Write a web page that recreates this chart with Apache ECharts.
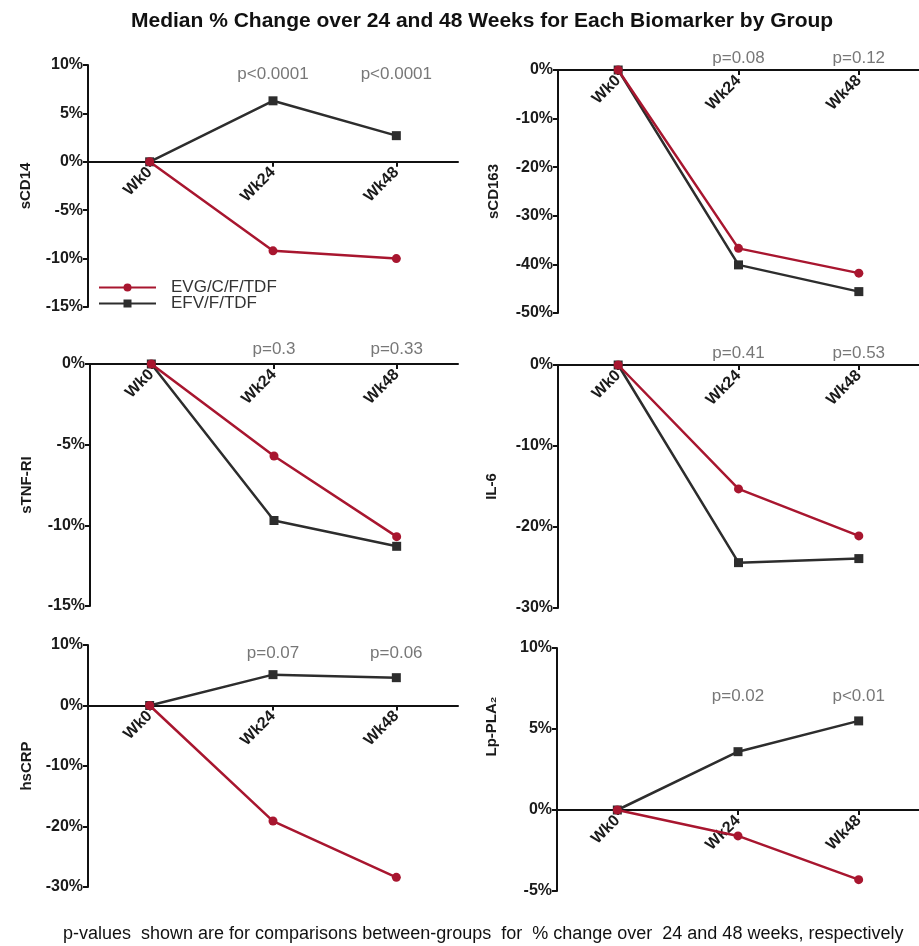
<!DOCTYPE html>
<html>
<head>
<meta charset="utf-8">
<script src="https://cdn.jsdelivr.net/npm/echarts@6/dist/echarts.min.js"></script>
<style>
html,body{margin:0;padding:0;background:#fff;}
#chart{width:919px;height:946px;}
</style>
</head>
<body>
<div id="chart"></div>
<script>
// ---------- DATA ----------
const categories = ['Wk0', 'Wk24', 'Wk48'];
const groupNames = ['EVG/C/F/TDF', 'EFV/F/TDF'];
const panelNames = ['sCD14', 'sCD163', 'sTNF-RI', 'IL-6', 'hsCRP', 'Lp-PLA\u2082'];

const sCD14_EVG = [0, -9.2, -10.0];
const sCD14_EFV = [0, 6.3, 2.7];
const sCD163_EVG = [0, -36.7, -41.8];
const sCD163_EFV = [0, -40.1, -45.6];
const sTNFRI_EVG = [0, -5.7, -10.7];
const sTNFRI_EFV = [0, -9.7, -11.3];
const IL6_EVG = [0, -15.3, -21.1];
const IL6_EFV = [0, -24.4, -23.9];
const hsCRP_EVG = [0, -19.1, -28.4];
const hsCRP_EFV = [0, 5.1, 4.6];
const LpPLA2_EVG = [0, -1.6, -4.3];
const LpPLA2_EFV = [0, 3.6, 5.5];

const sCD14_p = ['p<0.0001', 'p<0.0001'];
const sCD163_p = ['p=0.08', 'p=0.12'];
const sTNFRI_p = ['p=0.3', 'p=0.33'];
const IL6_p = ['p=0.41', 'p=0.53'];
const hsCRP_p = ['p=0.07', 'p=0.06'];
const LpPLA2_p = ['p=0.02', 'p<0.01'];

// y-axis ranges: [min, max, interval]
const yRange_sCD14 = [-15, 10, 5];
const yRange_sCD163 = [-50, 0, 10];
const yRange_sTNFRI = [-15, 0, 5];
const yRange_IL6 = [-30, 0, 10];
const yRange_hsCRP = [-30, 10, 10];
const yRange_LpPLA2 = [-5, 10, 5];

const titleText = 'Median % Change over 24 and 48 Weeks for Each Biomarker by Group';
const footText = 'p-values  shown are for comparisons between-groups  for  % change over  24 and 48 weeks, respectively';

// ---------- LAYOUT / STYLE ----------
const RED = '#a8162f';
const DARK = '#2d2d2d';
const FONT = "'Liberation Sans', Arial, sans-serif";

const panels = [
  {evg: sCD14_EVG, efv: sCD14_EFV, p: sCD14_p, y: yRange_sCD14, pY: 9.0,
   grid: {left: 88, top: 65, width: 370, height: 242}, gap: 55, namePad: 0},
  {evg: sCD163_EVG, efv: sCD163_EFV, p: sCD163_p, y: yRange_sCD163, pY: 2.5,
   grid: {left: 558, top: 70, width: 361, height: 243}, gap: 57, namePad: 0},
  {evg: sTNFRI_EVG, efv: sTNFRI_EFV, p: sTNFRI_p, y: yRange_sTNFRI, pY: 0.9,
   grid: {left: 90, top: 364, width: 368, height: 242}, gap: 56, namePad: 0},
  {evg: IL6_EVG, efv: IL6_EFV, p: IL6_p, y: yRange_IL6, pY: 1.4,
   grid: {left: 558, top: 365, width: 361, height: 243}, gap: 59, namePad: 0},
  {evg: hsCRP_EVG, efv: hsCRP_EFV, p: hsCRP_p, y: yRange_hsCRP, pY: 8.6,
   grid: {left: 88, top: 645, width: 370, height: 242}, gap: 54, namePad: 0},
  {evg: LpPLA2_EVG, efv: LpPLA2_EFV, p: LpPLA2_p, y: yRange_LpPLA2, pY: 7.0,
   grid: {left: 557, top: 648, width: 362, height: 243}, gap: 58, namePad: 86}
];

const grids = [], xAxes = [], yAxes = [], series = [];
panels.forEach((pn, i) => {
  grids.push(Object.assign({containLabel: false}, pn.grid));
  // place the category axis (line + labels) at the zero level of the value axis
  const zeroOffset = -pn.grid.height * (0 - pn.y[0]) / (pn.y[1] - pn.y[0]);
  xAxes.push({
    type: 'category', gridIndex: i, data: categories, boundaryGap: true,
    position: 'bottom', offset: zeroOffset,
    axisLine: {onZero: false, lineStyle: {color: '#111', width: 2}},
    axisTick: {show: true, alignWithLabel: true, length: 5, lineStyle: {color: '#111', width: 2}},
    axisLabel: {rotate: 45, margin: 8, color: '#1a1a1a', fontWeight: 'bold', fontSize: 16, fontFamily: FONT},
    splitLine: {show: false}
  });
  yAxes.push({
    type: 'value', gridIndex: i, min: pn.y[0], max: pn.y[1], interval: pn.y[2],
    name: panelNames[i], nameLocation: 'middle', nameGap: pn.gap,
    nameTextStyle: {fontWeight: 'bold', fontSize: 15, color: '#1a1a1a', fontFamily: FONT,
      padding: [0, 0, 0, pn.namePad]},
    axisLine: {show: true, onZero: false, lineStyle: {color: '#111', width: 2}},
    axisTick: {show: true, length: 5, lineStyle: {color: '#111', width: 2}},
    axisLabel: {formatter: '{value}%', color: '#1a1a1a', fontWeight: 'bold', fontSize: 16, margin: 5, fontFamily: FONT},
    splitLine: {show: false}
  });
  series.push({
    name: groupNames[1], type: 'line', xAxisIndex: i, yAxisIndex: i,
    data: pn.efv, symbol: 'rect', symbolSize: 9,
    lineStyle: {color: DARK, width: 2.5}, itemStyle: {color: DARK},
    z: 3
  });
  series.push({
    name: groupNames[0], type: 'line', xAxisIndex: i, yAxisIndex: i,
    data: pn.evg, symbol: 'circle', symbolSize: 9,
    lineStyle: {color: RED, width: 2.5}, itemStyle: {color: RED},
    z: 4
  });
  series.push({
    name: 'pvalues', type: 'scatter', xAxisIndex: i, yAxisIndex: i,
    data: [[categories[1], pn.pY], [categories[2], pn.pY]],
    symbolSize: 0, clip: false, silent: true,
    label: {
      show: true, position: 'inside', color: '#555', fontSize: 17, fontFamily: FONT,
      formatter: (d) => pn.p[d.dataIndex]
    },
    z: 5
  });
});

const option = {
  backgroundColor: '#ffffff',
  animation: false,
  title: [
    {text: titleText, left: 126, top: 6,
     textStyle: {fontSize: 21, fontWeight: 'bold', color: '#111', fontFamily: FONT}},
    {text: footText, left: 58, top: 920,
     textStyle: {fontSize: 18, fontWeight: 'normal', color: '#111', fontFamily: FONT}}
  ],
  legend: {
    data: groupNames, orient: 'vertical', left: 93, top: 274,
    itemWidth: 57, itemHeight: 10, itemGap: -1,
    textStyle: {fontSize: 17, color: '#333', fontFamily: FONT, padding: [0, 0, 0, 10], lineHeight: 16}
  },
  grid: grids, xAxis: xAxes, yAxis: yAxes, series: series
};

const chart = echarts.init(document.getElementById('chart'), null, {renderer: 'canvas'});
chart.setOption(option);
</script>
</body>
</html>
